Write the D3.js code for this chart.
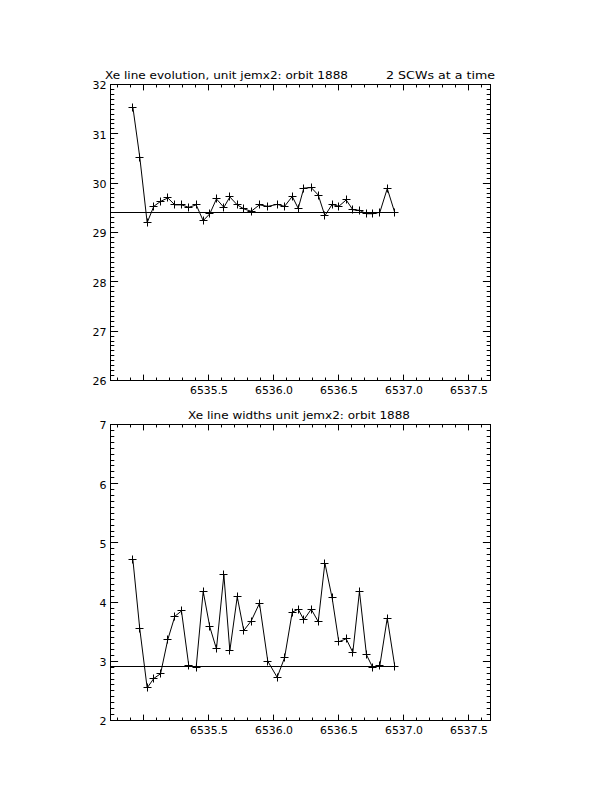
<!DOCTYPE html>
<html><head><meta charset="utf-8">
<script src="https://cdn.jsdelivr.net/npm/d3@7/dist/d3.min.js"></script>
<style>body{margin:0;background:#fff}svg{display:block}text{font-family:"DejaVu Sans",sans-serif;font-size:11px;fill:#000}</style>
</head><body><svg id="c" width="612" height="792"></svg>
<script>
const times = [6534.918,6534.971,6535.028,6535.079,6535.131,6535.187,6535.241,6535.292,6535.348,6535.405,6535.459,6535.510,6535.561,6535.618,6535.664,6535.721,6535.771,6535.828,6535.892,6535.956,6536.028,6536.085,6536.144,6536.190,6536.233,6536.290,6536.344,6536.395,6536.451,6536.502,6536.559,6536.610,6536.661,6536.715,6536.764,6536.818,6536.875,6536.933];
const linePos = [31.54,30.53,29.20,29.53,29.63,29.70,29.56,29.56,29.51,29.56,29.24,29.38,29.68,29.51,29.72,29.56,29.48,29.43,29.56,29.53,29.57,29.53,29.73,29.49,29.90,29.91,29.76,29.34,29.57,29.53,29.66,29.46,29.45,29.38,29.38,29.41,29.89,29.40];
const lineWidth = [4.72,3.55,2.55,2.71,2.79,3.37,3.76,3.85,2.93,2.90,4.18,3.58,3.21,4.46,3.18,4.09,3.52,3.68,3.98,3.00,2.73,3.06,3.83,3.88,3.70,3.88,3.67,4.66,4.07,3.33,3.38,3.15,4.18,3.11,2.89,2.93,3.73,2.91];
const refPos = 29.40;
const refWidth = 2.91;
const xDomain = [6534.746, 6537.669];
const xTicks = [6535.5, 6536.0, 6536.5, 6537.0, 6537.5];
const yTicksTop = [26,27,28,29,30,31,32];
const yTicksBot = [2,3,4,5,6,7];
const titleTopL = "Xe line evolution, unit jemx2: orbit 1888";
const titleTopR = "2 SCWs at a time";
const titleBot = "Xe line widths unit jemx2: orbit 1888";

const svg = d3.select("#c");
const L = 110, R = 490;

function panel(top, bottom, yDom, yTicks, vals, ref) {
  const g = svg.append("g").attr("transform","translate(0.5,0.5)");
  const x = d3.scaleLinear().domain(xDomain).range([L, R]);
  const y = d3.scaleLinear().domain(yDom).range([bottom, top]);
  const h = bottom - top, w = R - L;
  const xMinor = d3.range(Math.ceil(xDomain[0]*10), Math.floor(xDomain[1]*10)+1).map(v=>v/10);
  const yMinor = d3.range(yDom[0]*10, yDom[1]*10+1).map(v=>v/10);
  const xMaj = 0.02*h, yMaj = 0.02*w;
  const ax = d3.axisBottom(x).tickValues(xTicks).tickFormat(d3.format(".1f")).tickSize(0).tickPadding(6);
  const axg = g.append("g").attr("transform",`translate(0,${bottom})`).call(ax);
  axg.select(".domain").remove();
  axg.selectAll("text").attr("font-family",null).attr("font-size",null)
    .attr("textLength",38).attr("lengthAdjust","spacingAndGlyphs");
  const ay = d3.axisLeft(y).tickValues(yTicks).tickFormat(d3.format("d")).tickSize(0).tickPadding(4);
  const ayg = g.append("g").attr("transform",`translate(${L},0)`).call(ay);
  ayg.select(".domain").remove();
  ayg.selectAll("text").attr("font-family",null).attr("font-size",null).attr("dy","0.4em");
  g.append("rect").attr("x",L).attr("y",top).attr("width",w).attr("height",h)
    .attr("fill","none").attr("stroke","#000").attr("stroke-width",1);
  const tk = g.append("g").attr("stroke","#000").attr("stroke-width",1);
  xMinor.forEach(v=>{
    const isMaj = Math.abs(v*2 - Math.round(v*2)) < 1e-6;
    const len = isMaj ? xMaj : xMaj/2;
    const px = Math.round(x(v));
    tk.append("line").attr("x1",px).attr("x2",px).attr("y1",bottom).attr("y2",bottom-len);
    tk.append("line").attr("x1",px).attr("x2",px).attr("y1",top).attr("y2",top+len);
  });
  yMinor.forEach(v=>{
    const isMaj = Math.abs(v - Math.round(v)) < 1e-6;
    const len = isMaj ? yMaj : yMaj/2;
    const py = Math.round(y(v));
    tk.append("line").attr("x1",L).attr("x2",L+len).attr("y1",py).attr("y2",py);
    tk.append("line").attr("x1",R).attr("x2",R-len).attr("y1",py).attr("y2",py);
  });
  g.append("line").attr("x1",x(xDomain[0])).attr("x2",x(times[times.length-1]))
    .attr("y1",Math.round(y(ref))).attr("y2",Math.round(y(ref))).attr("stroke","#000");
  const data = times.map((t,i)=>[t, vals[i]]);
  g.append("path").datum(data).attr("fill","none").attr("stroke","#000").attr("stroke-width",1)
    .attr("d", d3.line().x(d=>x(d[0])).y(d=>y(d[1])));
  const pm = g.append("g").attr("stroke","#000").attr("stroke-width",1);
  data.forEach(d=>{
    const px = Math.round(x(d[0])), py = Math.round(y(d[1]));
    pm.append("line").attr("x1",px-4).attr("x2",px+4).attr("y1",py).attr("y2",py);
    pm.append("line").attr("x1",px).attr("x2",px).attr("y1",py-4).attr("y2",py+4);
  });
}

panel(84, 380, [26,32], yTicksTop, linePos, refPos);
panel(424, 720, [2,7], yTicksBot, lineWidth, refWidth);

svg.append("text").attr("x",105).attr("y",79).attr("textLength",243).attr("lengthAdjust","spacingAndGlyphs").text(titleTopL);
svg.append("text").attr("x",386).attr("y",79).attr("textLength",109).attr("lengthAdjust","spacingAndGlyphs").text(titleTopR);
svg.append("text").attr("x",188).attr("y",419).attr("textLength",222).attr("lengthAdjust","spacingAndGlyphs").text(titleBot);
</script></body></html>
